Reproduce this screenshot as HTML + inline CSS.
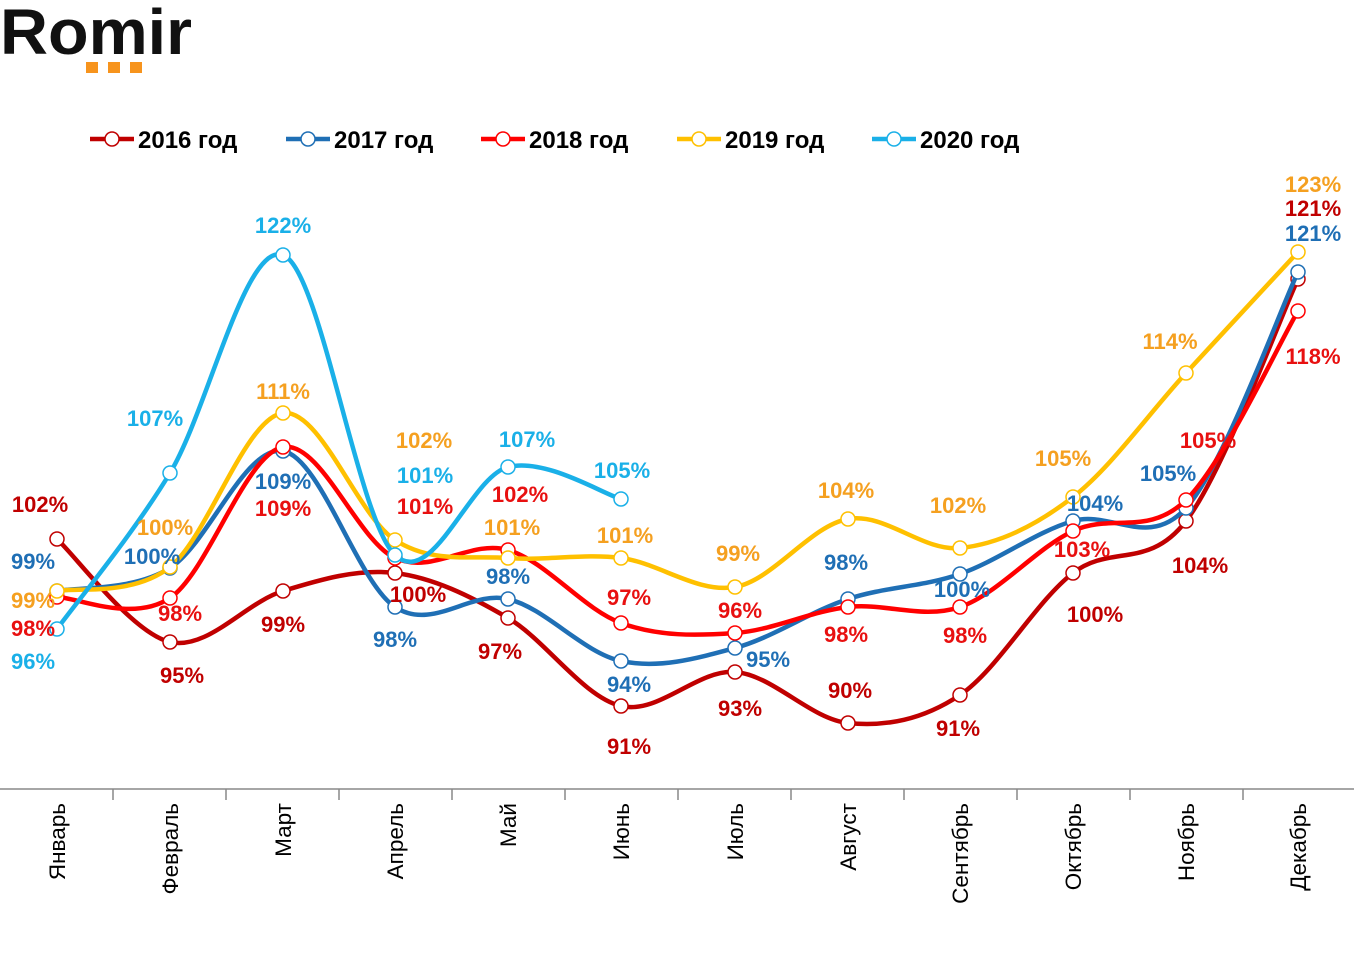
<!DOCTYPE html>
<html><head><meta charset="utf-8">
<style>
body{margin:0;background:#fff;width:1354px;height:958px;overflow:hidden;font-family:"Liberation Sans",Arial,sans-serif;}
svg{position:absolute;left:0;top:0}
</style></head>
<body>
<svg id="s" width="1354" height="958" xmlns="http://www.w3.org/2000/svg" font-family="Liberation Sans, Arial, sans-serif">
<text x="0" y="54" font-size="64" font-weight="bold" fill="#111" textLength="192" lengthAdjust="spacingAndGlyphs">Romir</text>
<rect x="86" y="62" width="12" height="11" fill="#f7941d"/>
<rect x="108" y="62" width="12" height="11" fill="#f7941d"/>
<rect x="130" y="62" width="12" height="11" fill="#f7941d"/>
<line x1="0" y1="789" x2="1354" y2="789" stroke="#888" stroke-width="1.5"/>
</svg>
<script>
var s=document.getElementById('s'),NS='http://www.w3.org/2000/svg';
function el(t,a,txt){var e=document.createElementNS(NS,t);for(var k in a)e.setAttribute(k,a[k]);if(txt)e.textContent=txt;s.appendChild(e);return e;}
var X=[57,170,283,395,508,621,735,848,960,1073,1186,1298];
var months=['Январь','Февраль','Март','Апрель','Май','Июнь','Июль','Август','Сентябрь','Октябрь','Ноябрь','Декабрь'];
for(var i=1;i<12;i++){el('line',{x1:i*113,y1:789,x2:i*113,y2:800,stroke:'#888','stroke-width':1.5});}
months.forEach(function(m,i){el('text',{x:0,y:0,transform:'translate('+(X[i]+8)+',803) rotate(-90)','text-anchor':'end','font-size':22.5,fill:'#000'},m);});
var series=[
{c:'#c00000',tc:'#c00000',y:[539,642,591,573,618,706,672,723,695,573,521,279],
L:[[40,504,'102%'],[182,675,'95%'],[283,624,'99%'],[418,594,'100%'],[500,651,'97%'],[629,746,'91%'],[740,708,'93%'],[850,690,'90%'],[958,728,'91%'],[1095,614,'100%'],[1200,565,'104%'],[1313,208,'121%']]},
{c:'#1f6fb5',tc:'#1f6fb5',y:[591,568,451,607,599,661,648,599,574,521,508,272],
L:[[33,561,'99%'],[152,556,'100%'],[283,481,'109%'],[395,639,'98%'],[508,576,'98%'],[629,684,'94%'],[768,659,'95%'],[846,562,'98%'],[962,589,'100%'],[1095,503,'104%'],[1168,473,'105%'],[1313,233,'121%']]},
{c:'#ff0000',tc:'#e81010',y:[597,598,447,558,550,623,633,607,607,531,500,311],
L:[[33,628,'98%'],[180,613,'98%'],[283,508,'109%'],[425,506,'101%'],[520,494,'102%'],[629,597,'97%'],[740,610,'96%'],[846,634,'98%'],[965,635,'98%'],[1082,549,'103%'],[1208,440,'105%'],[1313,356,'118%']]},
{c:'#ffc000',tc:'#f5a020',y:[591,567,413,540,558,558,587,519,548,497,373,252],
L:[[33,600,'99%'],[165,527,'100%'],[283,391,'111%'],[424,440,'102%'],[512,527,'101%'],[625,535,'101%'],[738,553,'99%'],[846,490,'104%'],[958,505,'102%'],[1063,458,'105%'],[1170,341,'114%'],[1313,184,'123%']]},
{c:'#1ab0e8',tc:'#1ab0e8',y:[629,473,255,555,467,499],
L:[[33,661,'96%'],[155,418,'107%'],[283,225,'122%'],[425,475,'101%'],[527,439,'107%'],[622,470,'105%']]}
];
series.forEach(function(se){
  var p=se.y.map(function(y,i){return [X[i],y];});
  var d='M'+p[0][0]+','+p[0][1];
  for(var i=0;i<p.length-1;i++){
    var p0=p[i-1]||p[i],p1=p[i],p2=p[i+1],p3=p[i+2]||p[i+1],t=6;
    d+=' C'+(p1[0]+(p2[0]-p0[0])/t)+','+(p1[1]+(p2[1]-p0[1])/t)+' '+(p2[0]-(p3[0]-p1[0])/t)+','+(p2[1]-(p3[1]-p1[1])/t)+' '+p2[0]+','+p2[1];
  }
  el('path',{d:d,fill:'none',stroke:se.c,'stroke-width':4.5,'stroke-linecap':'round'});
  p.forEach(function(q){el('circle',{cx:q[0],cy:q[1],r:7,fill:'#fff',stroke:se.c,'stroke-width':1.5});});
});
series.forEach(function(se){se.L.forEach(function(l){el('text',{x:l[0],y:l[1]+8,'text-anchor':'middle','font-size':22,'font-weight':'bold',fill:se.tc},l[2]);});});
var lx=[90,286,481,677,872],ln=['2016 год','2017 год','2018 год','2019 год','2020 год'];
series.forEach(function(se,i){
  el('line',{x1:lx[i],y1:139,x2:lx[i]+44,y2:139,stroke:se.c,'stroke-width':4.5});
  el('circle',{cx:lx[i]+22,cy:139,r:7,fill:'#fff',stroke:se.c,'stroke-width':1.5});
  el('text',{x:lx[i]+48,y:148,'font-size':24,'font-weight':'bold',fill:'#000'},ln[i]);
});
</script>
</body></html>
